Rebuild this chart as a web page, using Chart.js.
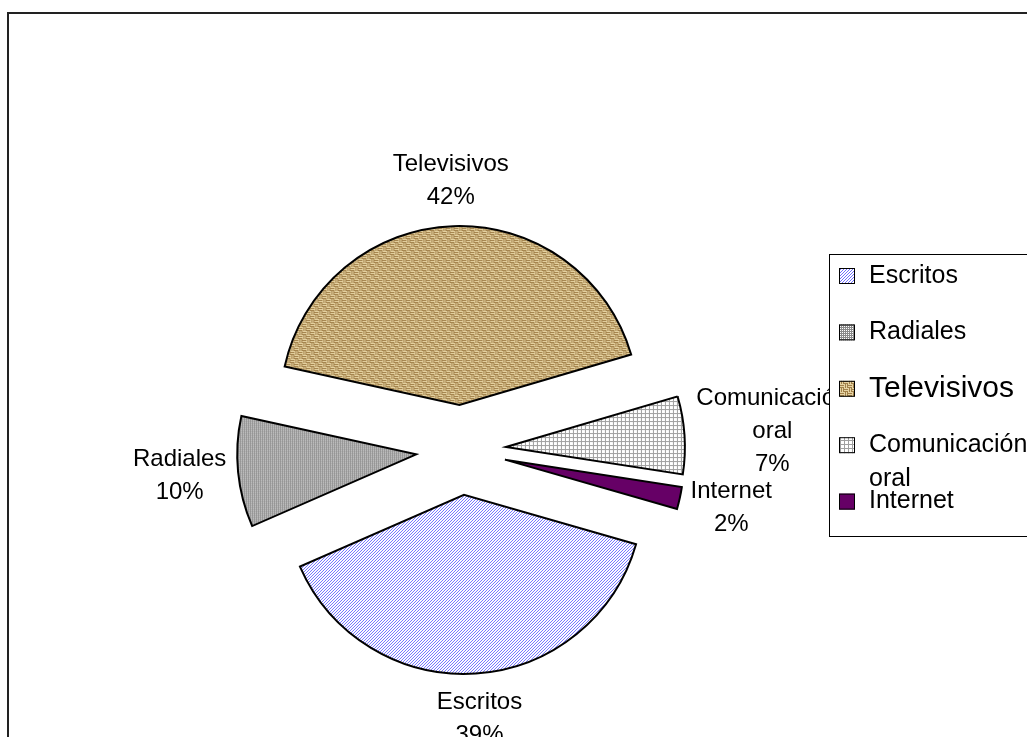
<!DOCTYPE html>
<html><head><meta charset="utf-8">
<script src="https://cdn.jsdelivr.net/npm/chart.js@4/dist/chart.umd.min.js"></script>
<style>html,body{margin:0;padding:0;background:#fff;overflow:hidden}canvas{display:block}</style>
</head><body>
<canvas id="c" width="1027" height="737"></canvas>
<script>
const categories = ['Escritos', 'Radiales', 'Televisivos', 'Comunicación oral', 'Internet'];
const shares = [39, 10, 42, 7, 2];

const PIE_RADIUS = 179;
const EXPLODE = 45;
const FONT = '"Liberation Sans", Arial, sans-serif';

const canvas = document.getElementById('c');
const mainCtx = canvas.getContext('2d');

function makePattern(size, draw) {
  const t = document.createElement('canvas');
  t.width = t.height = size;
  const g = t.getContext('2d');
  draw(g);
  return mainCtx.createPattern(t, 'repeat');
}

const patEscritos = makePattern(3, g => {
  g.fillStyle = '#fff'; g.fillRect(0, 0, 3, 3);
  g.fillStyle = '#7070ff';
  for (let i = 0; i < 3; i++) g.fillRect(2 - i, i, 1, 1);
});
const patRadiales = makePattern(2, g => {
  g.fillStyle = '#8a8a8a'; g.fillRect(0, 0, 2, 2);
  g.fillStyle = '#fff'; g.fillRect(0, 0, 1, 1);
});
const patTele = makePattern(8, g => {
  g.fillStyle = '#c4a46a'; g.fillRect(0, 0, 8, 8);
  for (let qx = 0; qx < 2; qx++) for (let qy = 0; qy < 2; qy++) {
    const horiz = (qx + qy) % 2 === 0;
    for (let k = 0; k < 4; k++) {
      g.fillStyle = k % 2 ? '#a2814a' : '#e6d3a2';
      if (horiz) g.fillRect(qx * 4, qy * 4 + k, 4, 1);
      else g.fillRect(qx * 4 + k, qy * 4, 1, 4);
    }
  }
});
const patCom = makePattern(4, g => {
  g.fillStyle = '#fff'; g.fillRect(0, 0, 4, 4);
  g.fillStyle = '#a0a0a0'; g.fillRect(0, 0, 4, 1); g.fillRect(0, 0, 1, 4);
});
const sliceFills = [patEscritos, patRadiales, patTele, patCom, '#660066'];

// Exploded pie: each arc is drawn by Chart.js, pushed out along its mid-angle
const explode = {
  id: 'explode',
  beforeDatasetDraw(chart, args, o) {
    const ctx = chart.ctx;
    args.meta.data.forEach(arc => {
      const mid = (arc.startAngle + arc.endAngle) / 2;
      ctx.save();
      ctx.translate(Math.cos(mid) * o.distance, Math.sin(mid) * o.distance);
      arc.draw(ctx, chart.chartArea);
      ctx.restore();
    });
    return false;
  }
};

const frame = {
  id: 'frame',
  beforeDraw(chart) {
    const ctx = chart.ctx;
    ctx.save();
    ctx.strokeStyle = '#222';
    ctx.lineWidth = 2;
    ctx.strokeRect(8, 13, 1200, 1200);
    ctx.restore();
  }
};

const sliceLabels = {
  id: 'sliceLabels',
  afterDatasetsDraw(chart, args, o) {
    const ctx = chart.ctx;
    const meta = chart.getDatasetMeta(0);
    const ds = chart.data.datasets[0];
    const total = ds.data.reduce((a, b) => a + b, 0);
    ctx.save();
    ctx.font = o.fontSize + 'px ' + FONT;
    ctx.fillStyle = '#000';
    ctx.textAlign = 'center';
    ctx.textBaseline = 'middle';
    meta.data.forEach((arc, i) => {
      const lines = chart.data.labels[i].split(' ').concat([Math.round(ds.data[i] / total * 100) + '%']);
      const w = Math.max(...lines.map(l => ctx.measureText(l).width));
      const h = lines.length * o.lineHeight;
      const mid = (arc.startAngle + arc.endAngle) / 2;
      const dx = Math.cos(mid), dy = Math.sin(mid);
      const r = arc.outerRadius + EXPLODE + o.gap;
      const cx = arc.x + dx * r + dx * w / 2;
      const cy = arc.y + dy * r + dy * h / 2;
      lines.forEach((l, k) => ctx.fillText(l, cx, cy - h / 2 + o.lineHeight * (k + 0.5)));
    });
    ctx.restore();
  }
};

const boxLegend = {
  id: 'boxLegend',
  afterDraw(chart, args, o) {
    const ctx = chart.ctx;
    const ds = chart.data.datasets[0];
    ctx.save();
    ctx.fillStyle = '#fff';
    ctx.fillRect(o.x, o.y, o.w, o.h);
    ctx.strokeStyle = '#000';
    ctx.lineWidth = 1;
    ctx.strokeRect(o.x + 0.5, o.y + 0.5, o.w, o.h);
    ctx.textAlign = 'left';
    ctx.textBaseline = 'middle';
    chart.data.labels.forEach((label, i) => {
      const yc = o.y + o.first + i * o.step;
      ctx.fillStyle = ds.backgroundColor[i];
      ctx.fillRect(o.swatchX, yc - o.swatch / 2, o.swatch, o.swatch);
      ctx.strokeStyle = '#000';
      ctx.lineWidth = 1;
      ctx.strokeRect(o.swatchX + 0.5, yc - o.swatch / 2 + 0.5, o.swatch - 1, o.swatch - 1);
      ctx.fillStyle = '#000';
      ctx.font = o.fontSizes[i] + 'px ' + FONT;
      label.split(' ').forEach((line, k) => ctx.fillText(line, o.textX, yc + k * o.lineHeight));
    });
    ctx.restore();
  }
};

new Chart(canvas, {
  type: 'pie',
  data: {
    labels: categories,
    datasets: [{
      data: shares,
      backgroundColor: sliceFills,
      borderColor: '#000',
      borderWidth: 2,
      borderJoinStyle: 'miter'
    }]
  },
  options: {
    responsive: false,
    animation: false,
    rotation: 106,
    radius: PIE_RADIUS,
    layout: { padding: { left: 100, right: 205, top: 250, bottom: 87 } },
    events: [],
    plugins: {
      legend: { display: false },
      tooltip: { enabled: false },
      explode: { distance: EXPLODE },
      sliceLabels: { fontSize: 24, lineHeight: 33, gap: 12 },
      boxLegend: {
        x: 829, y: 254, w: 260, h: 282,
        first: 22, step: 56.4,
        swatchX: 839, swatch: 16, textX: 869,
        fontSizes: [25, 25, 30, 25, 25], lineHeight: 34
      }
    }
  },
  plugins: [frame, explode, sliceLabels, boxLegend]
});
</script>
</body></html>
